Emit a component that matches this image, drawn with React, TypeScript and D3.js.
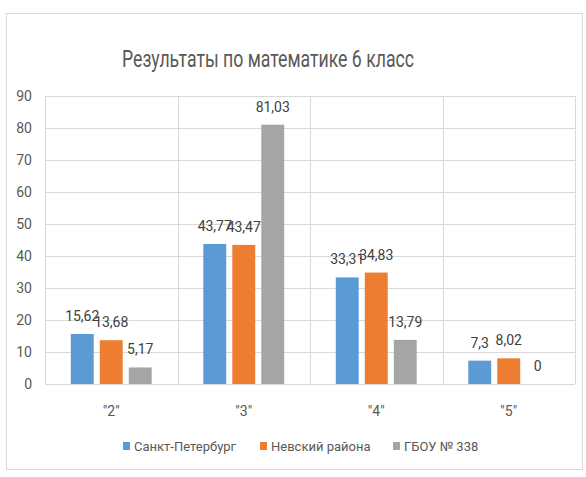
import React, { useEffect, useRef } from 'react';
import * as d3 from 'd3';

const categories = ['"2"', '"3"', '"4"', '"5"'];
const seriesNames = ['Санкт-Петербург', 'Невский района', 'ГБОУ № 338'];
const spbValues = [15.62, 43.77, 33.31, 7.3];
const nevskyValues = [13.68, 43.47, 34.83, 8.02];
const schoolValues = [5.17, 81.03, 13.79, 0];
const seriesColors = ['#5b9bd5', '#ed7d31', '#a5a5a5'];
const yTicks = [0, 10, 20, 30, 40, 50, 60, 70, 80, 90];

const FONT = 'Roboto, "Liberation Sans", sans-serif';
const W = 586;
const H = 477;

const fmt = (v: number) => String(v).replace('.', ',');

const App = () => {
  const svgRef = useRef<SVGSVGElement>(null);

  useEffect(() => {
    const svg = d3.select(svgRef.current);
    svg.selectAll('*').remove();

    const margin = { left: 45, right: 11, top: 96, bottom: 93 };
    const seriesValues = [spbValues, nevskyValues, schoolValues];

    const x = d3.scaleBand().domain(categories).range([margin.left, W - margin.right]);
    const x1 = d3.scaleBand()
      .domain(seriesNames)
      .range([0, x.bandwidth()])
      .paddingInner(0.21)
      .paddingOuter(0.89);
    const y = d3.scaleLinear().domain([0, 90]).range([H - margin.bottom, margin.top]);

    // chart frame
    svg.append('rect')
      .attr('x', 6.5).attr('y', 13.5)
      .attr('width', 576).attr('height', 456)
      .attr('fill', '#fff')
      .attr('stroke', '#d9d9d9');

    svg.append('text')
      .attr('x', 268).attr('y', 67)
      .attr('text-anchor', 'middle')
      .attr('font-family', FONT)
      .attr('font-size', 24)
      .attr('textLength', 292)
      .attr('lengthAdjust', 'spacingAndGlyphs')
      .attr('fill', '#595959')
      .text('Результаты по математике 6 класс');

    // grid
    svg.append('g')
      .selectAll('line')
      .data(yTicks)
      .join('line')
      .attr('x1', margin.left).attr('x2', W - margin.right)
      .attr('y1', d => Math.round(y(d)) + 0.5).attr('y2', d => Math.round(y(d)) + 0.5)
      .attr('stroke', '#d9d9d9');

    const bounds = categories.map(c => x(c)!).concat([W - margin.right]);
    svg.append('g')
      .selectAll('line')
      .data(bounds)
      .join('line')
      .attr('x1', d => Math.round(d) + 0.5).attr('x2', d => Math.round(d) + 0.5)
      .attr('y1', y(90)).attr('y2', y(0))
      .attr('stroke', '#d9d9d9');

    svg.append('g')
      .selectAll('text')
      .data(yTicks)
      .join('text')
      .attr('x', 32)
      .attr('y', d => y(d) + 5)
      .attr('text-anchor', 'end')
      .attr('font-family', FONT)
      .attr('font-size', 14)
      .attr('fill', '#595959')
      .text(d => d);

    svg.append('g')
      .selectAll('text')
      .data(categories)
      .join('text')
      .attr('x', d => x(d)! + x.bandwidth() / 2)
      .attr('y', 416)
      .attr('text-anchor', 'middle')
      .attr('font-family', FONT)
      .attr('font-size', 14)
      .attr('fill', '#595959')
      .text(d => d);

    const flat = seriesValues.flatMap((vals, si) =>
      vals.map((v, ci) => ({ v, series: seriesNames[si], cat: categories[ci], color: seriesColors[si] })));

    svg.append('g')
      .selectAll('rect')
      .data(flat)
      .join('rect')
      .attr('x', d => x(d.cat)! + x1(d.series)!)
      .attr('y', d => y(d.v))
      .attr('width', x1.bandwidth())
      .attr('height', d => y(0) - y(d.v))
      .attr('fill', d => d.color);

    svg.append('g')
      .selectAll('text')
      .data(flat)
      .join('text')
      .attr('x', d => x(d.cat)! + x1(d.series)! + x1.bandwidth() / 2)
      .attr('y', d => y(d.v) - 13)
      .attr('text-anchor', 'middle')
      .attr('font-family', FONT)
      .attr('font-size', 14)
      .attr('fill', '#404040')
      .text(d => fmt(d.v));

    // legend
    const legendX = [123, 260, 393];
    const lg = svg.append('g')
      .selectAll('g')
      .data(seriesNames)
      .join('g')
      .attr('transform', (d, i) => `translate(${legendX[i]},446)`);
    lg.append('rect')
      .attr('x', 0).attr('y', -4)
      .attr('width', 7).attr('height', 8)
      .attr('fill', (d, i) => seriesColors[i]);
    lg.append('text')
      .attr('x', 11).attr('y', 5)
      .attr('font-family', FONT)
      .attr('font-size', 13)
      .attr('fill', '#595959')
      .text(d => d);
  }, []);

  return (
    <svg ref={svgRef} width={W} height={H} style={{ position: 'absolute', left: 0, top: 0, background: '#fff' }} />
  );
};

export default App;
